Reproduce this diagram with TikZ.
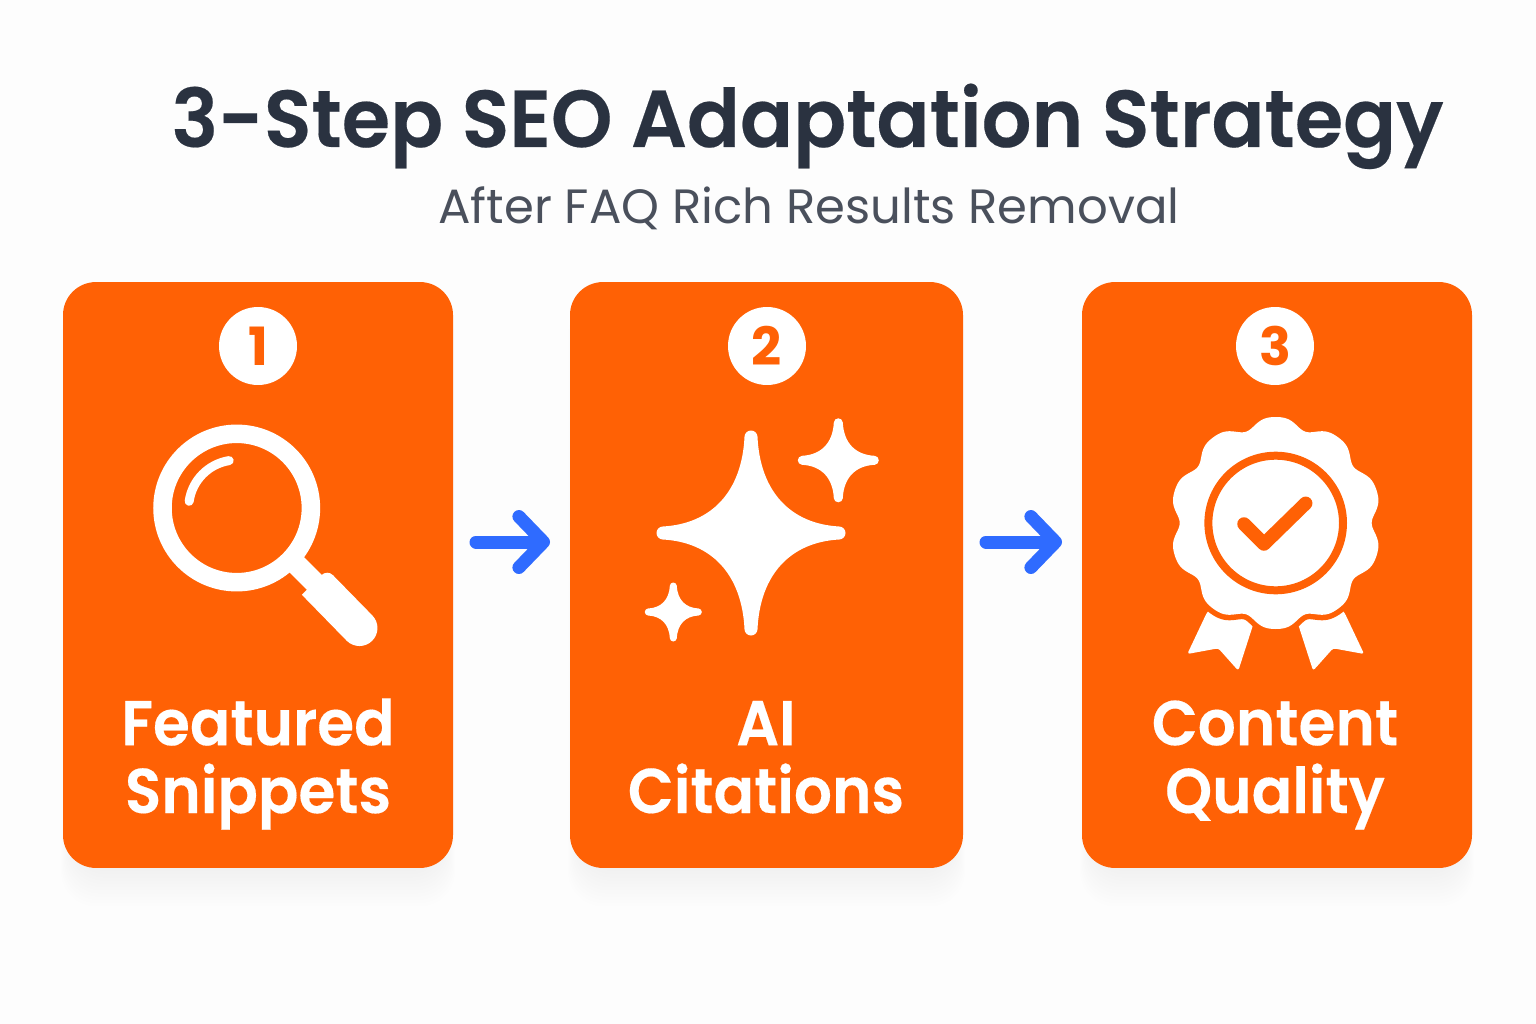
\documentclass[tikz,border=0pt]{standalone}
\usepackage{fontspec}
\setmainfont{Poppins}
\newfontfamily\titlefont{Poppins SemiBold}[FakeStretch=0.968,FakeBold=0.25]
\newfontfamily\labelfont{Poppins SemiBold}[FakeStretch=0.945,FakeBold=0.25]
\usetikzlibrary{arrows.meta}
\definecolor{cardorange}{HTML}{FF6105}
\definecolor{arrowblue}{HTML}{2F6BFF}
\definecolor{titleink}{HTML}{2A3240}
\definecolor{subink}{HTML}{4A505C}
\definecolor{pagewhite}{HTML}{FDFDFD}
\tikzset{
  stepcard/.style={fill=cardorange, rounded corners=0.66cm, inner sep=0pt, minimum height=11.72cm},
  numdisc/.style={circle, fill=white, inner sep=0pt, minimum size=1.56cm, text=cardorange, font=\bfseries\fontsize{30}{30}\selectfont},
  steplabel/.style={text=white, align=center, inner sep=0pt, anchor=base, font=\labelfont\fontsize{36}{38.6}\selectfont},
  flowarrow/.style={draw=arrowblue, line width=7.4pt, line cap=round, -{Straight Barb[length=14pt,width=29pt,round]}},
  iconwhite/.style={draw=white, line cap=round, line join=round},
}
\begin{document}
\begin{tikzpicture}[x=0.02cm, y=-0.02cm]
  \useasboundingbox (0,0) rectangle (1536,1024);
  \fill[pagewhite] (0,0) rectangle (1536,1024);

  % Title
  \node[text=titleink, inner sep=0pt, anchor=base, font=\titlefont\fontsize{46}{46}\selectfont] (title) at (807.5,147) {3-Step SEO Adaptation Strategy};
  \node[text=subink, inner sep=0pt, anchor=base, font=\fontsize{27.4}{27.4}\selectfont] (subtitle) at (809,223) {After FAQ Rich Results Removal};

  % Cards with their soft shadows
  \foreach \name/\cx/\cw in {cardone/258/390, cardtwo/766.5/393, cardthree/1277/390} {
    \foreach \i in {1,...,12}
      \fill[black, opacity=0.005, rounded corners=0.7cm] (\cx-\cw/2+10-\i,300) rectangle (\cx+\cw/2-10+\i,868+\i*3.2);
    \node[stepcard, minimum width=\cw*0.02cm] (\name) at (\cx,575) {};
  }

  % Numbers
  \node[numdisc] (numone) at (258,346) {1};
  \node[numdisc] (numtwo) at (767,346) {2};
  \node[numdisc] (numthree) at (1275,346) {3};

  % Labels
  \node[steplabel] (labelone) at (258,813) {Featured\\Snippets};
  \node[steplabel] (labeltwo) at (766,813) {AI\\Citations};
  \node[steplabel] (labelthree) at (1275,813) {Content\\Quality};

  % Arrows
  \coordinate (arrowonestart) at (476,542);
  \coordinate (arrowoneend) at (550,542);
  \coordinate (arrowtwostart) at (986,542);
  \coordinate (arrowtwoend) at (1062,542);
  \draw[flowarrow] (arrowonestart) -- (arrowoneend);
  \draw[flowarrow] (arrowtwostart) -- (arrowtwoend);

  % Magnifier
  \draw[white, line width=18.5*0.02cm] (236.7,508) circle (74.2);
  \draw[white, line width=21*0.02cm] (295,563) -- (316,584);
  \fill[white, rounded corners=0.16cm] (301.9,594.8) -- (327.3,569.4) [sharp corners] -- (372.2,615.3) arc (-45:135:18) -- cycle;
  \draw[iconwhite, line width=9*0.02cm] (236.7,508) ++(188:48) arc (188:261:48);

  % Sparkles
  \foreach \cx/\cy/\rx/\ry/\w in {751/533/88/96/13, 838.3/460.3/36/37.5/9, 673.3/612/25/26/7}
    \filldraw[fill=white, iconwhite, line width=\w*0.02cm]
      (\cx,\cy-\ry) .. controls ({\cx+.03*\rx},{\cy-.40*\ry}) and ({\cx+.40*\rx},{\cy-.03*\ry}) .. (\cx+\rx,\cy)
      .. controls ({\cx+.40*\rx},{\cy+.03*\ry}) and ({\cx+.03*\rx},{\cy+.40*\ry}) .. (\cx,\cy+\ry)
      .. controls ({\cx-.03*\rx},{\cy+.40*\ry}) and ({\cx-.40*\rx},{\cy+.03*\ry}) .. (\cx-\rx,\cy)
      .. controls ({\cx-.40*\rx},{\cy-.03*\ry}) and ({\cx-.03*\rx},{\cy-.40*\ry}) .. cycle;

  % Badge
  \foreach \s in {-1,1}
    \fill[white, rounded corners=0.05cm] ({1275.7+\s*69},613) -- ({1275.7+\s*50},590) -- ({1275.7+\s*14},600) -- ({1275.7+\s*23},626)
      -- ({1275.7+\s*37.4},670.7) -- ({1275.7+\s*57.4},648.3) -- ({1275.7+\s*88.4},654) -- cycle;
  \draw[cardorange, line width=11*0.02cm] plot[domain=0:359, samples=360] ({1275.7+(102+5*cos(10*\x)-cos(20*\x))*cos(\x-90)},{523+(102+5*cos(10*\x)-cos(20*\x))*sin(\x-90)}) -- cycle;
  \fill[white] plot[domain=0:359, samples=360] ({1275.7+(102+5*cos(10*\x)-cos(20*\x))*cos(\x-90)},{523+(102+5*cos(10*\x)-cos(20*\x))*sin(\x-90)}) -- cycle;
  \draw[cardorange, line width=8*0.02cm] (1275.7,523) circle (67.3);
  \draw[cardorange, line width=13.5*0.02cm, line cap=round, line join=round] (1244,524) -- (1264,544) -- (1305.7,503.3);
\end{tikzpicture}
\end{document}
